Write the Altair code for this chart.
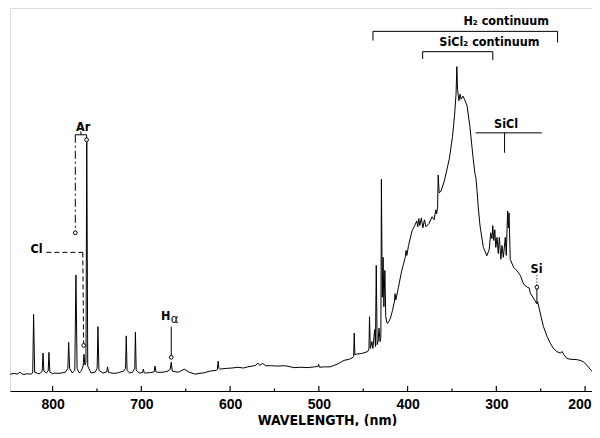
import altair as alt
import pandas as pd

# ---- spectrum (wavelength nm, relative intensity) ----
wavelength = [
    847.8, 843.0, 840.0, 836.7, 833.3, 828.0, 824.4, 822.4, 821.4, 820.2, 817.0, 814.4,
    811.7, 810.8, 809.8, 807.2, 805.0, 804.1, 803.1, 800.0, 797.8, 794.0, 790.0, 785.6,
    782.8, 781.9, 780.8, 777.8, 775.0, 773.7, 772.4, 770.0, 767.8, 765.6, 764.6, 763.6,
    762.4, 761.5, 760.4, 759.2, 756.7, 752.2, 749.8, 748.9, 747.8, 743.3, 739.0, 738.1,
    737.0, 734.4, 730.0, 725.6, 720.0, 717.8, 717.0, 716.1, 713.3, 710.0, 707.4, 706.7,
    705.8, 702.2, 698.5, 697.8, 696.8, 695.5, 689.9, 685.5, 684.6, 683.5, 682.0, 675.3,
    670.0, 667.4, 666.3, 665.2, 658.4, 651.7, 646.1, 639.3, 635.0, 630.3, 622.5, 615.7,
    614.3, 613.5, 612.6, 611.8, 604.5, 598.0, 591.1, 585.0, 580.0, 575.0, 571.1, 568.9,
    566.7, 563.3, 560.0, 553.0, 546.7, 540.0, 535.6, 527.8, 520.0, 513.3, 505.0, 501.0,
    500.3, 499.3, 494.0, 487.4, 479.3, 471.6, 465.5, 461.5, 460.8, 460.1, 459.4, 458.6,
    451.7, 444.8, 443.5, 442.9, 442.0, 441.0, 440.2, 439.1, 437.1, 436.2, 435.3, 434.3,
    433.2, 432.2, 431.0, 430.1, 429.5, 428.5, 427.6, 426.7, 425.6, 424.6, 423.5, 422.6,
    421.0, 419.5, 417.0, 414.9, 414.1, 413.2, 410.3, 406.6, 402.6, 401.7, 400.8, 398.9,
    395.0, 391.9, 389.7, 388.5, 387.4, 386.2, 384.5, 382.8, 381.0, 379.3, 375.9, 372.4,
    370.1, 368.2, 367.2, 366.2, 365.5, 364.4, 362.4, 358.6, 352.9, 349.4, 347.1, 345.4,
    344.5, 343.7, 342.2, 340.8, 339.7, 337.6, 335.6, 333.0, 329.9, 326.1, 324.1, 323.0,
    321.8, 320.3, 318.4, 314.6, 310.7, 308.0, 306.3, 304.9, 304.0, 302.9, 301.7, 300.6,
    299.2, 297.8, 296.6, 294.9, 293.6, 292.1, 289.9, 288.8, 287.3, 286.5, 285.7, 284.3,
    280.6, 276.4, 273.0, 269.3, 265.2, 262.9, 261.8, 256.2, 254.3, 253.4, 250.6, 246.9,
    242.7, 239.3, 235.6, 231.8, 228.1, 225.8, 224.2, 220.6, 216.9, 209.3, 205.6, 201.9,
    197.8, 193.3, 188.8, 185.4,
]
intensity = [
    4.4, 4.6, 4.4, 4.9, 4.3, 4.5, 4.4, 4.7, 20.0, 4.9, 4.6, 4.5,
    5.2, 9.9, 5.2, 4.7, 5.2, 10.1, 4.9, 4.5, 4.7, 4.6, 4.7, 4.9,
    5.9, 12.7, 5.9, 4.7, 5.4, 30.3, 5.9, 4.7, 5.2, 6.5, 9.6, 6.8,
    7.5, 65.0, 6.5, 5.9, 4.7, 4.9, 5.9, 16.8, 5.4, 4.7, 5.0, 6.3,
    4.9, 4.7, 4.6, 4.8, 5.2, 5.9, 14.4, 5.4, 4.7, 4.9, 5.9, 15.4,
    5.4, 4.7, 4.8, 5.7, 4.8, 4.7, 4.8, 5.0, 6.5, 5.0, 4.9, 4.9,
    5.2, 5.7, 7.5, 5.2, 4.9, 5.7, 4.9, 4.4, 4.6, 4.7, 5.2, 5.4,
    5.6, 7.8, 5.9, 5.7, 5.9, 6.0, 6.2, 6.0, 6.3, 6.5, 6.7, 7.3,
    6.7, 7.2, 6.6, 6.6, 6.5, 6.6, 6.5, 6.1, 6.2, 6.1, 6.3, 6.4,
    7.0, 6.2, 6.3, 6.3, 7.0, 8.0, 8.3, 8.8, 9.0, 15.1, 9.4, 9.6,
    9.8, 10.3, 11.0, 19.4, 11.1, 12.0, 12.9, 11.1, 16.0, 11.6, 32.8, 12.1,
    13.0, 16.4, 12.9, 14.0, 55.3, 24.5, 34.9, 22.0, 31.5, 19.4, 18.0, 17.6,
    18.2, 18.9, 21.0, 23.3, 25.4, 23.8, 27.1, 31.4, 34.9, 36.7, 35.4, 38.0,
    41.8, 43.2, 44.4, 42.9, 45.0, 43.2, 45.2, 42.6, 44.7, 42.9, 43.7, 45.5,
    44.7, 47.3, 46.3, 48.0, 56.4, 51.7, 52.2, 54.8, 60.7, 66.4, 71.9, 77.5,
    84.7, 78.8, 75.8, 77.5, 76.2, 77.0, 76.0, 74.5, 69.3, 60.7, 56.8, 55.6,
    52.5, 47.8, 43.2, 37.5, 35.3, 37.0, 41.3, 39.8, 43.2, 39.3, 42.1, 37.5,
    40.1, 35.9, 40.1, 34.4, 38.0, 34.9, 40.1, 35.4, 47.0, 42.6, 46.5, 34.4,
    32.3, 31.3, 30.2, 27.9, 27.1, 26.9, 25.6, 23.5, 22.8, 23.3, 20.4, 16.8,
    14.2, 12.5, 11.1, 10.3, 9.9, 10.3, 9.6, 8.5, 8.3, 8.2, 8.0, 7.6,
    6.7, 5.4, 4.4, 3.6,
]

# ---- axis ticks ----
tick_major = [800, 700, 600, 500, 400, 300, 200]
tick_minor = [750, 650, 550, 450, 350, 250]
x_domain = [192.2, 848.0]
axis_title = "WAVELENGTH, (nm)"

# ---- annotation brackets / leader lines (wl1, I1, wl2, I2) ----
solid_wl1 = [439, 439, 231, 383, 383, 304, 323.3, 290.7, 254.3, 666.3, 774.4, 768.1, 761.7]
solid_i1 = [93.9, 93.9, 93.9, 88.6, 88.6, 88.6, 67.4, 67.4, 27.1, 16.8, 66.9, 66.9, 66.9]
solid_wl2 = [231, 439, 231, 304, 383, 304, 248.7, 290.7, 254.3, 666.3, 761.7, 768.1, 761.7]
solid_i2 = [93.9, 91.5, 91.0, 88.6, 86.7, 86.4, 67.4, 62.2, 22.8, 8.8, 66.9, 67.8, 65.6]

dashed_wl1 = [807.0, 766.0]
dashed_i1 = [36.2, 36.2]
dashed_wl2 = [766.0, 765.0]
dashed_i2 = [36.2, 11.9]

dashdot_wl1 = [774.4]
dashdot_i1 = [66.9]
dashdot_wl2 = [774.4]
dashdot_i2 = [41.3]

dotted_wl1 = [254.3]
dotted_i1 = [30.2]
dotted_wl2 = [254.3]
dotted_i2 = [27.1]

# ---- open circles marking lines ----
circle_wl = [774.4, 761.7, 765.0, 666.3, 254.3]
circle_i = [41.3, 65.6, 11.9, 8.8, 27.1]

# ---- labels ----
label_text = ["H\u2082 continuum", "SiCl\u2082 continuum", "SiCl", "Si", "Ar", "Cl", "H"]
label_wl = [288.8, 307.8, 289.0, 254.7, 765.6, 818.1, 672.5]
label_i = [96.6, 91.0, 69.8, 31.9, 69.0, 37.0, 19.6]
alpha_text = ["\u03b1"]
alpha_wl = [662.6]
alpha_i = [18.9]

FONT = "DejaVu Sans Condensed, DejaVu Sans, sans-serif"
NUMFONT = "Liberation Sans Narrow, Liberation Sans, sans-serif"

W, H = 582, 383
xs = alt.Scale(domain=x_domain, reverse=True, nice=False, zero=False)
ys = alt.Scale(domain=[0, 100], nice=False, zero=True)

XAXIS = alt.Axis(
    values=tick_major, format="d", ticks=False, grid=False,
    domainColor="black", domainWidth=1,
    labelFont=NUMFONT, labelFontSize=14, labelFontWeight="bold", labelColor="black",
    labelPadding=6, labelBaseline="top", labelFlush=8, labelFlushOffset=6,
    title=axis_title, titleFont=FONT, titleFontSize=14, titleFontWeight="bold",
    titleColor="black", titleX=317, titleY=33, titleBaseline="alphabetic",
    titleAlign="center")


def xenc(field):
    return alt.X(field, scale=xs, axis=XAXIS, title=axis_title)


def yenc(field):
    return alt.Y(field, scale=ys, axis=None)


spec = pd.DataFrame({"wl": wavelength, "I": intensity})
line = alt.Chart(spec).mark_line(color="black", strokeWidth=1, strokeJoin="miter", clip=True).encode(
    x=xenc("wl:Q"), y=yenc("I:Q"),
)


def seg_layer(w1, i1, w2, i2, dash=None, width=1):
    df = pd.DataFrame({"w1": w1, "i1": i1, "w2": w2, "i2": i2})
    kw = dict(color="black", strokeWidth=width)
    if dash is not None:
        kw["strokeDash"] = dash
    return alt.Chart(df).mark_rule(**kw).encode(
        x=xenc("w1:Q"), x2="w2:Q", y=yenc("i1:Q"), y2="i2:Q",
    )


solid = seg_layer(solid_wl1, solid_i1, solid_wl2, solid_i2)
dashed = seg_layer(dashed_wl1, dashed_i1, dashed_wl2, dashed_i2, dash=[5, 3])
dashdot = seg_layer(dashdot_wl1, dashdot_i1, dashdot_wl2, dashdot_i2, dash=[8, 3, 2, 3])
dotted = seg_layer(dotted_wl1, dotted_i1, dotted_wl2, dotted_i2, dash=[1, 2])

circles = alt.Chart(pd.DataFrame({"wl": circle_wl, "I": circle_i})).mark_point(
    shape="circle", filled=True, fill="white", stroke="black", strokeWidth=1, size=14, opacity=1
).encode(x=xenc("wl:Q"), y=yenc("I:Q"))

labels = alt.Chart(pd.DataFrame({"t": label_text, "wl": label_wl, "I": label_i})).mark_text(
    font=FONT, fontSize=12.5, fontWeight="bold", color="black", align="center", baseline="middle"
).encode(x=xenc("wl:Q"), y=yenc("I:Q"), text="t:N")

alpha = alt.Chart(pd.DataFrame({"t": alpha_text, "wl": alpha_wl, "I": alpha_i})).mark_text(
    font=FONT, fontSize=13, fontWeight="normal", color="black", align="center", baseline="middle"
).encode(x=xenc("wl:Q"), y=yenc("I:Q"), text="t:N")

major = alt.Chart(pd.DataFrame({"wl": tick_major})).mark_rule(color="black", strokeWidth=1.2).encode(
    x=xenc("wl:Q"), y=alt.value(H), y2=alt.value(H - 5)
)
minor = alt.Chart(pd.DataFrame({"wl": tick_minor})).mark_rule(color="black", strokeWidth=1.2).encode(
    x=xenc("wl:Q"), y=alt.value(H), y2=alt.value(H - 2.5)
)

chart = alt.layer(line, solid, dashed, dashdot, dotted, circles, labels, alpha, major, minor).properties(
    width=W, height=H, padding={"left": 2, "top": 0, "right": 0, "bottom": 35},
    autosize=alt.AutoSizeParams(type="none"),
).configure_view(stroke=None).configure(background="white")

chart.save("out.html", embed_options={"renderer": "svg", "actions": False})
